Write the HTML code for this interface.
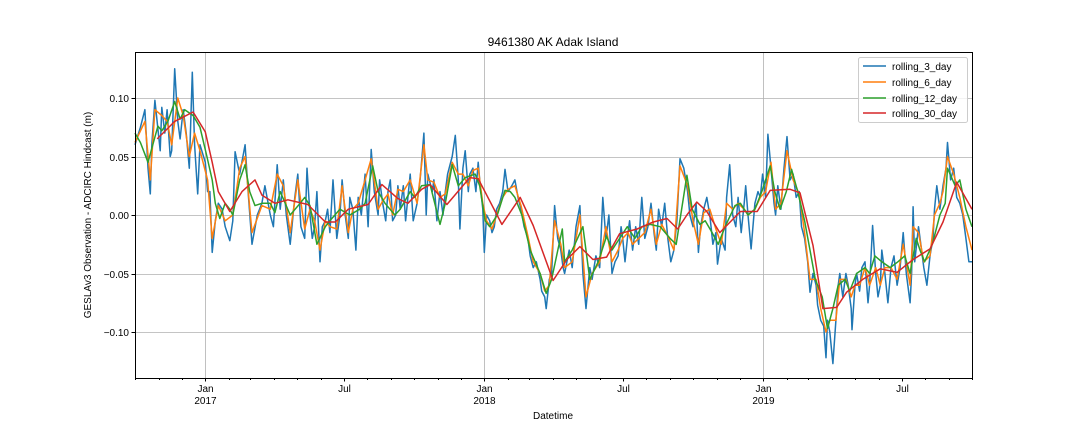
<!DOCTYPE html>
<html><head><meta charset="utf-8"><style>
body{margin:0;background:#fff}
svg{display:block;font-family:"Liberation Sans","DejaVu Sans",sans-serif}
</style></head><body>
<svg id="chart" width="1080" height="432" xmlns="http://www.w3.org/2000/svg">
<rect width="1080" height="432" fill="#fff"/>
<text x="553" y="46" text-anchor="middle" font-size="12">9461380 AK Adak Island</text>
<g id="grid"></g>
<g id="series"></g>
<rect x="135.5" y="52.5" width="837" height="326" fill="none" stroke="#000" stroke-width="1"/>
<g id="axes"></g>
<text transform="translate(91,215) rotate(-90)" text-anchor="middle" font-size="10">GESLAv3 Observation - ADCIRC Hindcast (m)</text>
<text x="553" y="419" text-anchor="middle" font-size="10">Datetime</text>
<g>
<rect x="858.5" y="57.5" width="109" height="65" rx="2" fill="#fff" fill-opacity="0.8" stroke="#ccc"/>
<g><line x1="863" x2="886" y1="66" y2="66" stroke="#1f77b4" stroke-width="1.5"/><text x="892" y="70" font-size="10">rolling_3_day</text></g>
<g><line x1="863" x2="886" y1="82" y2="82" stroke="#ff7f0e" stroke-width="1.5"/><text x="892" y="86" font-size="10">rolling_6_day</text></g>
<g><line x1="863" x2="886" y1="98" y2="98" stroke="#2ca02c" stroke-width="1.5"/><text x="892" y="102" font-size="10">rolling_12_day</text></g>
<g><line x1="863" x2="886" y1="113" y2="113" stroke="#d62728" stroke-width="1.5"/><text x="892" y="117" font-size="10">rolling_30_day</text></g>
</g>
</svg>
<script>
// days since 2016-10-01 and values (m)
const blueDays=[0,7,13,17,20,22,26,33,35,39,42,46,48,52,56,59,63,67,71,75,78,82,85,92,95,98,101,105,109,114,118,124,128,131,137,144,148,153,160,166,170,177,181,186,190,194,198,203,209,213,217,222,225,229,232,235,238,242,245,249,252,255,259,264,268,271,275,279,281,285,289,292,296,301,305,309,313,318,320,324,328,331,334,337,341,344,347,351,354,360,364,369,373,378,381,383,389,391,395,399,403,406,409,415,419,423,425,429,432,436,438,442,446,449,451,455,457,460,464,467,470,473,477,481,484,488,493,497,501,505,509,514,517,521,525,530,532,536,538,542,545,549,553,557,560,562,568,572,577,582,586,590,595,598,603,608,612,616,620,624,628,632,636,638,641,645,647,651,655,659,663,667,671,675,679,682,685,689,693,697,701,705,709,713,718,723,726,730,734,737,740,744,748,752,756,760,762,767,772,774,778,782,786,789,793,797,799,802,806,811,815,818,821,825,828,832,836,838,841,845,849,853,857,861,865,869,872,876,880,883,887,891,893,897,901,904,906,909,913,917,920,922,926,930,933,937,938,942,944,948,951,955,959,961,965,969,972,975,977,981,985,989,993,997,1001,1005,1009,1014,1016,1018,1020,1025,1029,1032,1036,1040,1044,1046,1049,1053,1057,1061,1063,1067,1071,1075,1079,1083,1087,1091,1095];
const blueVals=[.060,.075,.090,.040,.018,.060,.098,.055,.092,.070,.090,.050,.055,.125,.080,.065,.090,.070,.040,.122,.060,.018,.060,.045,.020,.020,-.032,-.005,.010,.005,-.010,-.022,-.005,.054,.035,.060,.020,-.025,.000,.010,.025,.000,-.010,.043,.005,.030,.000,-.025,.015,.035,-.010,-.020,.040,.000,-.020,-.010,.020,-.040,-.010,-.005,.005,-.015,.030,-.020,.000,.030,.000,-.020,.015,.005,-.030,.015,.000,.035,-.010,.056,.020,.000,.030,.010,-.005,.020,.030,-.005,.000,.025,.005,.025,-.005,.035,-.005,.010,.030,.070,.000,.035,.020,.030,-.005,.020,.000,.020,.035,.050,.068,.030,-.012,.040,.055,.020,.035,.040,.020,.045,.030,.005,-.032,.000,-.005,-.015,-.010,.005,.010,.020,.039,.020,.025,.030,.015,.005,-.010,-.020,-.035,-.045,-.040,-.055,-.065,-.070,-.080,-.055,-.050,.008,-.020,-.030,-.045,-.050,-.030,-.045,-.010,.008,-.050,-.080,-.045,-.055,-.035,-.045,.015,-.020,.000,-.050,-.040,-.035,-.010,-.020,-.040,-.015,-.005,-.030,-.010,-.025,.015,-.020,-.010,.010,-.015,-.030,.005,-.010,.010,-.020,-.040,-.030,-.005,.048,.040,.020,.000,-.010,.010,-.032,-.010,.005,.015,.000,-.025,-.015,-.042,-.020,-.030,.015,.043,.000,-.010,.015,-.015,.010,.025,.000,-.029,.010,.020,.015,.035,.015,.069,.040,.010,.000,.025,.005,.040,.067,.030,.035,.015,.020,-.010,-.020,-.040,-.066,-.050,-.060,-.077,-.090,-.095,-.122,-.090,-.100,-.127,-.090,-.060,-.050,-.070,-.050,-.060,-.080,-.098,-.060,-.050,-.065,-.045,-.040,-.075,-.060,-.009,-.050,-.070,-.060,-.030,-.050,-.075,-.045,-.035,-.060,-.045,-.015,-.050,-.075,-.050,.007,-.040,-.010,-.030,-.045,-.060,-.035,-.020,.005,.025,.005,.025,.040,.062,.030,.040,.015,.010,.000,-.020,-.040,-.040];
const orangeDays=[0,13,20,26,35,42,48,56,63,71,78,85,95,101,109,118,128,137,144,153,166,177,186,194,203,213,222,229,235,242,249,255,264,271,279,285,292,301,309,318,324,331,337,344,351,360,369,378,383,391,399,406,415,423,429,436,442,449,455,460,467,473,481,488,497,505,514,521,530,536,542,549,557,562,572,582,590,598,608,616,624,632,638,645,651,659,667,675,682,689,697,705,713,723,730,737,744,752,760,767,774,782,789,797,802,811,818,825,832,838,845,853,861,869,876,883,891,897,904,909,917,922,930,937,942,948,955,961,969,975,981,989,997,1005,1014,1018,1025,1032,1040,1046,1053,1057,1063,1071,1079,1087,1095];
const orangeVals=[.062,.080,.030,.090,.085,.080,.060,.100,.085,.050,.070,.055,.030,-.020,.008,-.005,.000,.040,.050,-.015,.008,.005,.035,.025,-.015,.030,-.012,.005,-.005,-.030,-.005,-.010,-.012,.025,-.015,.005,.010,.030,.048,.005,.012,.018,.000,.022,.020,.030,.010,.060,.030,.028,.015,.018,.045,.035,.035,.025,.038,.040,.010,-.005,-.012,.000,.015,.022,.025,.008,-.018,-.040,-.050,-.065,-.060,-.005,-.025,-.045,-.040,.000,-.070,-.050,-.040,-.010,-.040,-.030,-.020,-.015,-.025,-.020,-.015,.005,-.025,-.008,-.018,-.030,.042,.025,-.005,-.025,.002,.005,-.012,-.025,.010,.005,.010,.005,.000,.005,.015,.020,.045,.005,.010,.055,.030,.018,-.015,-.055,-.055,-.080,-.100,-.090,-.090,-.055,-.055,-.070,-.060,-.060,-.045,-.060,-.045,-.060,-.045,-.045,-.055,-.025,-.060,-.010,-.015,-.040,-.035,.000,.010,.020,.050,.035,.015,-.010,-.030];
const greenDays=[0,7,17,30,35,43,52,59,65,76,85,94,101,105,111,118,124,128,137,144,150,157,166,177,183,190,203,216,222,229,238,249,255,268,281,294,301,311,318,327,340,347,360,366,375,386,399,406,415,423,432,445,451,458,464,474,484,491,497,506,517,530,538,545,559,562,572,586,595,606,617,624,634,644,654,663,674,687,700,708,722,729,739,746,755,763,772,785,792,802,811,820,831,837,844,852,859,867,876,883,890,899,906,913,920,929,935,944,955,961,968,977,988,998,1007,1014,1022,1027,1033,1043,1053,1060,1063,1073,1079,1087,1095];
const greenVals=[.070,.062,.045,.076,.072,.080,.097,.082,.090,.085,.075,.050,.030,.010,-.003,.010,.005,.000,.030,.043,.020,.008,.010,.010,.002,.020,.000,.010,.015,.008,-.025,-.010,-.005,.005,.000,.005,.010,.042,.020,.010,.000,.005,.020,.015,.025,.026,-.008,.010,.043,.025,.032,.035,.025,-.005,-.010,.000,.021,.020,.015,.000,-.030,-.050,-.067,-.055,-.012,-.040,-.030,-.010,-.055,-.040,-.018,-.030,-.020,-.010,-.020,-.010,-.008,-.010,-.020,-.025,.034,.005,-.008,-.005,-.015,-.025,-.010,.008,.010,.000,.005,.020,.042,.020,.005,.020,.039,.020,-.005,-.030,-.055,-.070,-.097,-.080,-.060,-.055,-.065,-.050,-.045,-.050,-.035,-.040,-.045,-.040,-.035,-.050,-.020,-.030,-.040,-.025,.000,.010,.040,.025,.030,.005,-.010];
const redDays=[29,52,76,92,101,109,124,140,157,166,183,200,226,249,262,279,305,323,344,357,375,386,408,438,449,480,504,521,547,565,582,599,617,634,657,678,696,710,722,735,748,765,792,814,831,857,870,887,900,918,931,952,975,997,1018,1040,1057,1075,1095];
const redVals=[.065,.080,.088,.071,.045,.020,.003,.020,.030,.017,.010,.013,.009,-.006,-.006,.005,.009,.026,.014,.010,.022,.026,.009,.032,.031,-.008,.015,-.009,-.056,-.038,-.027,-.038,-.036,-.016,-.012,-.006,-.003,-.012,.000,.011,.003,-.015,.003,.003,.021,.022,.019,-.026,-.080,-.079,-.066,-.055,-.046,-.049,-.038,-.029,-.006,.028,.005];
const yTicks=[0.10,0.05,0.00,-0.05,-0.10];
const yTickLabels=["0.10","0.05","0.00","\u22120.05","\u22120.10"];
const majorDays=[92,273,457,638,822,1003];
const majorLabels=["Jan","Jul","Jan","Jul","Jan","Jul"];
const yearLabels=["2017","","2018","","2019",""];
const monthDays=[0,31,61,92,123,151,182,212,243,273,304,335,365,396,426,457,488,516,547,577,608,638,669,700,730,761,791,822,853,881,912,942,973,1003,1034,1065,1095];

const X0=135,X1=972,Y0=52,Y1=378;
const xs=d=>X0+(d-0)/(1095-0)*(X1-X0);
const ys=v=>215-v*1170;
const NS="http://www.w3.org/2000/svg";
const grid=document.getElementById('grid'),axes=document.getElementById('axes'),ser=document.getElementById('series');
function mk(t,a,p){const e=document.createElementNS(NS,t);for(const k in a)e.setAttribute(k,a[k]);p.appendChild(e);return e;}
yTicks.forEach((v,i)=>{
  const y=Math.round(ys(v))+0.5;
  const g=mk('line',{x1:X0,x2:X1,y1:y,y2:y,stroke:'#b0b0b0','stroke-width':0.8},grid);
  
  
  const t=mk('line',{x1:X0-3.5,x2:X0,y1:y,y2:y,stroke:'#000'},axes);
  
  
  const l=mk('text',{x:X0-6,y:y+3.5,'text-anchor':'end','font-size':10},axes);
  l.textContent=yTickLabels[i];
  
  
});
monthDays.forEach(d=>{
  const x=Math.round(xs(d))+0.5;
  const t=mk('line',{x1:x,x2:x,y1:Y1,y2:Y1+2,stroke:'#000'},axes);
  
  
});
majorDays.forEach((d,i)=>{
  const x=Math.round(xs(d))+0.5;
  if(yearLabels[i]){
    const g=mk('line',{x1:x,x2:x,y1:Y0,y2:Y1,stroke:'#b0b0b0','stroke-width':0.8},grid);
    
    
  }
  const t=mk('line',{x1:x,x2:x,y1:Y1,y2:Y1+3.5,stroke:'#000'},axes);
  
  
  const l=mk('text',{x:x,y:Y1+14,'text-anchor':'middle','font-size':10},axes);
  l.textContent=majorLabels[i];
  
  
  if(yearLabels[i]){
    const l2=mk('text',{x:x,y:Y1+26,'text-anchor':'middle','font-size':10},axes);
    l2.textContent=yearLabels[i];
    
    
  }
});
function line(days,vals,color,name){
  const d=days.map((t,i)=>(i?'L':'M')+xs(t).toFixed(1)+','+ys(vals[i]).toFixed(1)).join('');
  const p=mk('path',{d:d,fill:'none',stroke:color,'stroke-width':1.5,'stroke-linejoin':'round'},ser);
  
  
}
line(blueDays,blueVals,'#1f77b4','rolling-3-day-line');
line(orangeDays,orangeVals,'#ff7f0e','rolling-6-day-line');
line(greenDays,greenVals,'#2ca02c','rolling-12-day-line');
line(redDays,redVals,'#d62728','rolling-30-day-line');
</script>
</body></html>
